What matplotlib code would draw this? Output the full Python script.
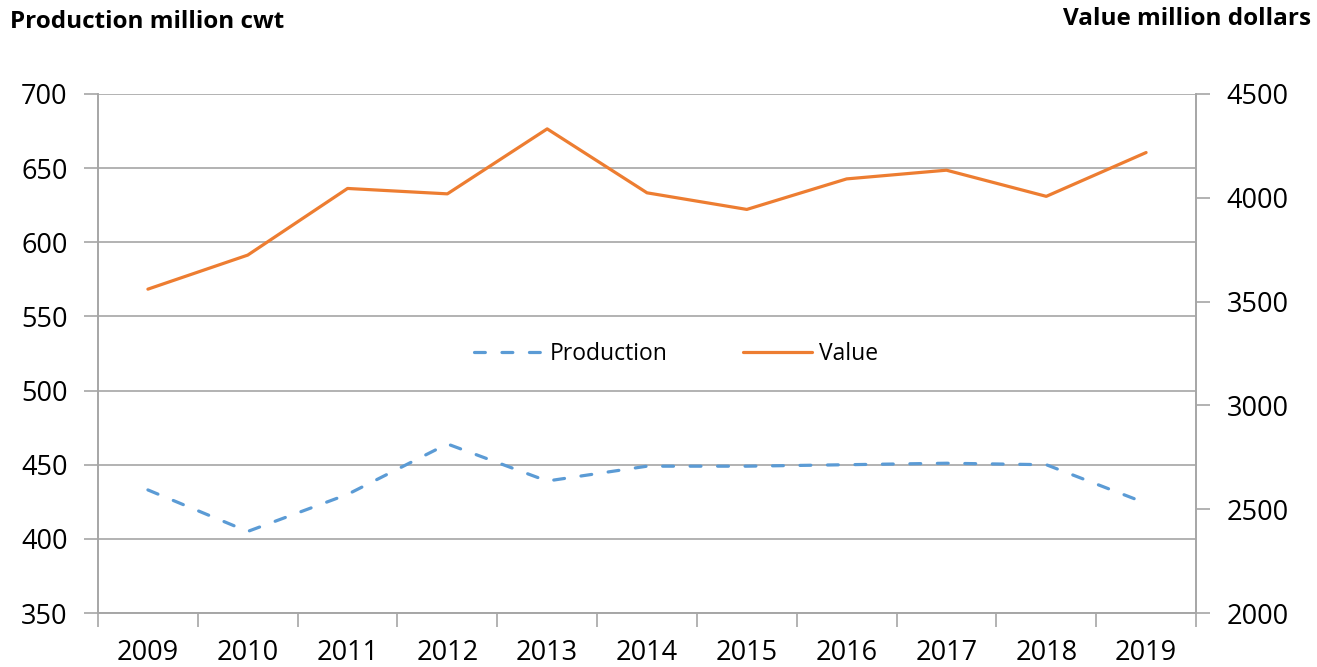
import matplotlib
matplotlib.use("Agg")
import matplotlib.pyplot as plt
from matplotlib.lines import Line2D

years = ["2009", "2010", "2011", "2012", "2013", "2014", "2015", "2016", "2017", "2018", "2019"]
production = [433, 405, 430, 464, 439, 449, 449, 450, 451, 450, 424]
value = [3560, 3724, 4045, 4019, 4332, 4024, 3944, 4091, 4133, 4007, 4218]

left_ticks = [350, 400, 450, 500, 550, 600, 650, 700]
right_ticks = [2000, 2500, 3000, 3500, 4000, 4500]

plt.rcParams['font.family'] = ['Open Sans', 'DejaVu Sans']
blue = '#5B9BD5'
orange = '#ED7D31'
grid_c = '#A6A6A6'

fig = plt.figure(figsize=(13.17, 6.67), dpi=100)
ax = fig.add_axes([98/1317, 1-613/667, (1196-98)/1317, (613-94)/667])
ax2 = ax.twinx()

x = list(range(len(years)))
ax.plot(x, production, color=blue, lw=2.3, dashes=(3.4, 5.2), dash_capstyle='round', solid_capstyle='round', zorder=3)
ax2.plot(x, value, color=orange, lw=2.3, solid_capstyle='round', zorder=3)

ax.set_xlim(-0.5, len(years) - 0.5)
ax.set_ylim(350, 700)
ax2.set_ylim(2000, 4500)
ax.set_yticks(left_ticks)
ax2.set_yticks(right_ticks)
ax.set_xticks(x)
ax.set_xticklabels(years)
ax.set_xticks([i - 0.5 for i in range(len(years) + 1)], minor=True)

ax.grid(axis='y', color=grid_c, lw=1.2, zorder=0)
ax.set_axisbelow(True)

for a in (ax, ax2):
    a.spines['top'].set_visible(False)
    for s in ('left', 'right', 'bottom'):
        a.spines[s].set_color(grid_c)
        a.spines[s].set_linewidth(1.2)

ax.tick_params(axis='x', which='major', length=0, labelsize=19.5, pad=19, colors='black')
ax.tick_params(axis='x', which='minor', length=10, width=1.2, color=grid_c, direction='out')
ax.tick_params(axis='y', length=10, width=1.2, color=grid_c, labelsize=19.5, pad=12, labelcolor='black')
ax2.tick_params(axis='y', length=10, width=1.2, color=grid_c, labelsize=19.5, pad=12, labelcolor='black')

fig.text(10/1317, 1-22/667, "Production million cwt", fontsize=17.5, fontweight='bold', ha='left', va='center')
fig.text(1311/1317, 1-19/667, "Value million dollars", fontsize=17.5, fontweight='bold', ha='right', va='center')

handles = [Line2D([0], [0], color=blue, lw=2.3, dashes=(3.4, 5.2), dash_capstyle='round'),
           Line2D([0], [0], color=orange, lw=2.3, solid_capstyle='round')]
leg = ax.legend(handles, ["Production", "Value"], loc='center', bbox_to_anchor=(676/1317, 1-354/667),
                bbox_transform=fig.transFigure, ncol=2, frameon=False, fontsize=16.5,
                handlelength=3.0, columnspacing=3.3, handletextpad=0.3)

fig.savefig("out.png", dpi=100)
